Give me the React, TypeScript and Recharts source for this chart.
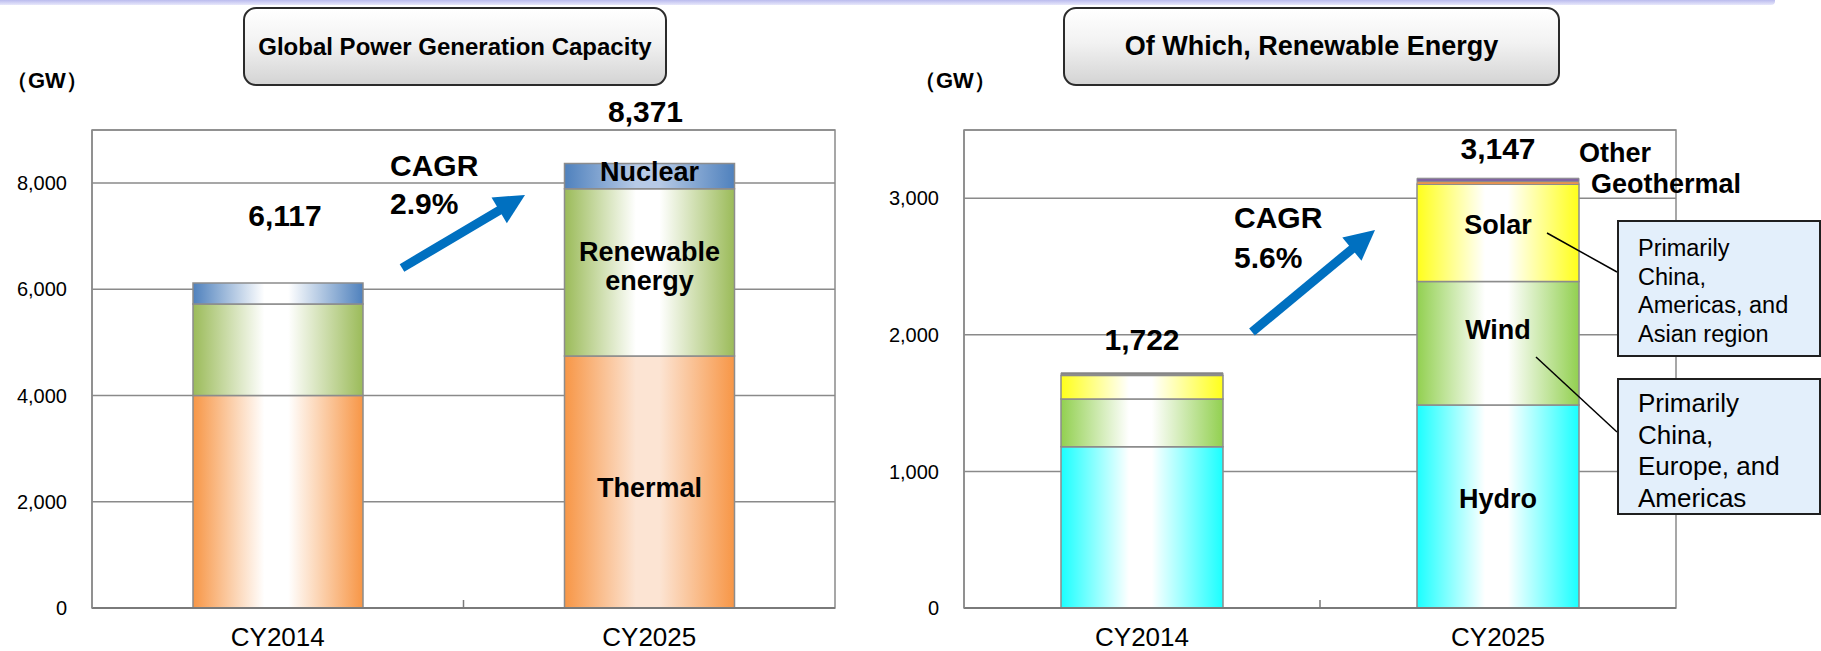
import React from "react";
import { BarChart, Bar, XAxis, YAxis, CartesianGrid, Cell, LabelList, ReferenceArea } from "recharts";

const FONT = "'Liberation Sans', Arial, Helvetica, sans-serif";

const years = ["CY2014", "CY2025"];

// global power generation capacity (GW)
const thermal = [4000, 4745];
const renewable = [1722, 3147];
const nuclear = [395, 479];

// of which renewable (GW)
const hydro = [1181, 1487];
const wind = [350, 903];
const solar = [171, 712];
const geothermal = [10, 20];
const other = [10, 25];

const leftTicks = [0, 2000, 4000, 6000, 8000];
const rightTicks = [0, 1000, 2000, 3000];

const globalData = years.map((year, i) => ({ year, thermal: thermal[i], renewable: renewable[i], nuclear: nuclear[i] }));
const renewData = years.map((year, i) => ({
  year, hydro: hydro[i], wind: wind[i], solar: solar[i], geothermal: geothermal[i], other: other[i],
}));
const globalTotals = years.map((_, i) => thermal[i] + renewable[i] + nuclear[i]);
const renewTotals = years.map((_, i) => hydro[i] + wind[i] + solar[i] + geothermal[i] + other[i]);

// layout
const H = 651;
const XAXIS_H = 43;
const L = { left: 0, width: 860, margin: { top: 130, right: 25, left: 67, bottom: 0 } };
const R = { left: 880, width: 820, margin: { top: 130, right: 24, left: 59, bottom: 0 } };
const YAXIS_W = 25;
const GRID = "#8a8a8a";
const STROKE = "#8c8c8c";

const grad = (id: string, edge: string, mid: string) => (
  <linearGradient id={id} x1="0" y1="0" x2="1" y2="0" key={id}>
    <stop offset="0" stopColor={edge} />
    <stop offset="0.42" stopColor={mid} />
    <stop offset="0.56" stopColor={mid} />
    <stop offset="1" stopColor={edge} />
  </linearGradient>
);

const box = (p: any) => {
  const vb = p.viewBox ?? p;
  const top = Math.min(vb.y, vb.y + vb.height);
  return { x: vb.x, y: top, width: vb.width, height: Math.abs(vb.height) };
};

// label inside the CY2025 segment only
const segLabel = (lines: string[], dy: number) => (p: any) => {
  if (p.index !== 1) return null;
  const b = box(p);
  const cx = b.x + b.width / 2;
  const cy = b.y + b.height / 2 + dy;
  const fs = 27;
  const lh = 29;
  return (
    <text textAnchor="middle" fontFamily={FONT} fontWeight="bold" fontSize={fs} fill="#000">
      {lines.map((l, k) => (
        <tspan key={k} x={cx} y={cy + (k - (lines.length - 1) / 2) * lh + fs * 0.35}>{l}</tspan>
      ))}
    </text>
  );
};

const totalLabel = (totals: number[], lift: number[], dx: number[]) => (p: any) => {
  const i = p.index;
  if (i == null) return null;
  const b = box(p);
  const fs = 30;
  return (
    <text x={b.x + b.width / 2 + dx[i]} y={b.y - lift[i] + fs * 0.35} textAnchor="middle"
      fontFamily={FONT} fontWeight="bold" fontSize={fs} fill="#000">
      {totals[i].toLocaleString("en-US")}
    </text>
  );
};

function Arrow({ x1, y1, x2, y2 }: { x1: number; y1: number; x2: number; y2: number }) {
  const a = Math.atan2(y2 - y1, x2 - x1);
  const len = 30, half = 15;
  const bx = x2 - len * Math.cos(a), by = y2 - len * Math.sin(a);
  const px = -Math.sin(a), py = Math.cos(a);
  return (
    <g>
      <line x1={x1} y1={y1} x2={bx + 4 * Math.cos(a)} y2={by + 4 * Math.sin(a)} stroke="#0070C0" strokeWidth={9} />
      <polygon points={`${x2},${y2} ${bx + half * px},${by + half * py} ${bx - half * px},${by - half * py}`} fill="#0070C0" />
    </g>
  );
}

const titleBox = (left: number, width: number, text: string, fs: number) => (
  <div style={{
    position: "absolute", left, top: 7, width, height: 79, boxSizing: "border-box",
    border: "2px solid #2b2b2b", borderRadius: 13,
    background: "linear-gradient(to bottom, #ffffff 0%, #f2f2f2 45%, #d4d4d4 100%)",
    display: "flex", alignItems: "center", justifyContent: "center",
    fontFamily: FONT, fontWeight: "bold", fontSize: fs, color: "#000",
  }}>{text}</div>
);

const callout = (top: number, lines: string[], fs: number, lh: number, padTop: number) => (
  <div style={{
    position: "absolute", left: 1617, top, width: 204, height: 137, boxSizing: "border-box",
    border: "2px solid #1f1f1f", background: "#E3EFFB", paddingLeft: 19, paddingTop: padTop,
    fontFamily: FONT, fontSize: fs, lineHeight: `${lh}px`, color: "#000",
  }}>
    {lines.map((l, k) => <div key={k} style={{ whiteSpace: "nowrap" }}>{l}</div>)}
  </div>
);

const tickStyle = { fontSize: 20, fill: "#000", fontFamily: FONT };
const xTickStyle = { fontSize: 26, fill: "#000", fontFamily: FONT };

// thin top strips: grey on the 2014 bar, coloured on the 2025 bar
const geoFill = ["#8c8c8c", "#F79646"];
const otherFill = ["#7f7f7f", "#8064A2"];

export default function App() {
  const lPlotW = L.width - L.margin.left - L.margin.right - YAXIS_W;
  const rPlotW = R.width - R.margin.left - R.margin.right - YAXIS_W;
  const lMid = L.left + L.margin.left + YAXIS_W + lPlotW / 2;
  const rMid = R.left + R.margin.left + YAXIS_W + rPlotW / 2;
  const plotBottom = H - XAXIS_H;

  return (
    <div style={{ position: "absolute", left: 0, top: 0, width: 1821, height: H, overflow: "hidden", background: "#fff" }}>
      <svg width={0} height={0} style={{ position: "absolute" }}>
        <defs>
          {grad("thermal0", "#F79646", "#FFFFFF")}
          {grad("thermal1", "#F79646", "#FCE4D3")}
          {grad("renew0", "#9BBB59", "#FFFFFF")}
          {grad("renew1", "#9BBB59", "#FFFFFF")}
          {grad("nuclear0", "#4F81BD", "#FFFFFF")}
          {grad("nuclear1", "#4F81BD", "#B7CAE6")}
          {grad("hydro", "#1AFFFF", "#FFFFFF")}
          {grad("wind", "#92D050", "#FFFFFF")}
          {grad("solar", "#FFFF1A", "#FFFFFF")}
        </defs>
      </svg>

      <div style={{
        position: "absolute", left: -10, top: -3, width: 1785, height: 8, borderRadius: 4,
        background: "linear-gradient(to bottom, #9fa0e6, #e8e8fb)",
      }} />

      {titleBox(243, 424, "Global Power Generation Capacity", 24)}
      {titleBox(1063, 497, "Of Which, Renewable Energy", 27)}

      <div style={{ position: "absolute", left: L.left }}>
        <BarChart width={L.width} height={H} data={globalData} margin={L.margin}>
          <CartesianGrid horizontal vertical={false} stroke={GRID} strokeWidth={1.5} />
          <ReferenceArea y1={0} y2={9000} fill="none" stroke={GRID} strokeWidth={1.5} />
          <XAxis dataKey="year" height={XAXIS_H} tickSize={0} tickMargin={20} tickLine={false}
            axisLine={{ stroke: "#7a7a7a", strokeWidth: 2 }} tick={xTickStyle} />
          <YAxis type="number" domain={[0, 9000]} ticks={leftTicks} interval={0} width={YAXIS_W}
            tickSize={0} tickMargin={25} tickLine={false} axisLine={{ stroke: GRID, strokeWidth: 1.5 }}
            tick={tickStyle} tickFormatter={(v: number) => v.toLocaleString("en-US")} />
          <Bar dataKey="thermal" stackId="a" barSize={170} stroke={STROKE} strokeWidth={1.5} isAnimationActive={false}>
            {years.map((_, i) => <Cell key={i} fill={`url(#thermal${i})`} />)}
            <LabelList dataKey="thermal" content={segLabel(["Thermal"], 6)} />
          </Bar>
          <Bar dataKey="renewable" stackId="a" barSize={170} stroke={STROKE} strokeWidth={1.5} isAnimationActive={false}>
            {years.map((_, i) => <Cell key={i} fill={`url(#renew${i})`} />)}
            <LabelList dataKey="renewable" content={segLabel(["Renewable", "energy"], -6)} />
          </Bar>
          <Bar dataKey="nuclear" stackId="a" barSize={170} stroke={STROKE} strokeWidth={1.5} isAnimationActive={false}>
            {years.map((_, i) => <Cell key={i} fill={`url(#nuclear${i})`} />)}
            <LabelList dataKey="nuclear" content={segLabel(["Nuclear"], -5)} />
            <LabelList dataKey="nuclear" content={totalLabel(globalTotals, [68, 52], [7, -4])} />
          </Bar>
        </BarChart>
      </div>

      <div style={{ position: "absolute", left: R.left, top: 0 }}>
        <BarChart width={R.width} height={H} data={renewData} margin={R.margin}>
          <CartesianGrid horizontal vertical={false} stroke={GRID} strokeWidth={1.5} />
          <ReferenceArea y1={0} y2={3500} fill="none" stroke={GRID} strokeWidth={1.5} />
          <XAxis dataKey="year" height={XAXIS_H} tickSize={0} tickMargin={20} tickLine={false}
            axisLine={{ stroke: "#7a7a7a", strokeWidth: 2 }} tick={xTickStyle} />
          <YAxis type="number" domain={[0, 3500]} ticks={rightTicks} interval={0} width={YAXIS_W}
            tickSize={0} tickMargin={25} tickLine={false} axisLine={{ stroke: GRID, strokeWidth: 1.5 }}
            tick={tickStyle} tickFormatter={(v: number) => v.toLocaleString("en-US")} />
          <Bar dataKey="hydro" stackId="r" barSize={162} fill="url(#hydro)" stroke={STROKE} strokeWidth={1.5} isAnimationActive={false}>
            <LabelList dataKey="hydro" content={segLabel(["Hydro"], -8)} />
          </Bar>
          <Bar dataKey="wind" stackId="r" barSize={162} fill="url(#wind)" stroke={STROKE} strokeWidth={1.5} isAnimationActive={false}>
            <LabelList dataKey="wind" content={segLabel(["Wind"], -14)} />
          </Bar>
          <Bar dataKey="solar" stackId="r" barSize={162} fill="url(#solar)" stroke={STROKE} strokeWidth={1.5} isAnimationActive={false}>
            <LabelList dataKey="solar" content={segLabel(["Solar"], -8)} />
          </Bar>
          <Bar dataKey="geothermal" stackId="r" barSize={162} stroke={STROKE} strokeWidth={1} isAnimationActive={false}>
            {years.map((_, i) => <Cell key={i} fill={geoFill[i]} />)}
          </Bar>
          <Bar dataKey="other" stackId="r" barSize={162} stroke={STROKE} strokeWidth={1} isAnimationActive={false}>
            {years.map((_, i) => <Cell key={i} fill={otherFill[i]} />)}
            <LabelList dataKey="other" content={totalLabel(renewTotals, [33, 30], [0, 0])} />
          </Bar>
        </BarChart>
      </div>

      <svg width={1821} height={H} style={{ position: "absolute", left: 0, top: 0, pointerEvents: "none" }}>
        <g fontFamily={FONT} fill="#000">
          <text x={6} y={80 + 7.7} fontSize={22} fontWeight="bold">（GW）</text>
          <text x={914} y={80 + 7.7} fontSize={22} fontWeight="bold">（GW）</text>

          <text x={390} y={165 + 10.5} fontSize={30} fontWeight="bold">CAGR</text>
          <text x={390} y={203 + 10.5} fontSize={30} fontWeight="bold">2.9%</text>
          <text x={1234} y={217 + 10.5} fontSize={30} fontWeight="bold">CAGR</text>
          <text x={1234} y={257 + 10.5} fontSize={30} fontWeight="bold">5.6%</text>

          <text x={1579} y={152 + 9.5} fontSize={27} fontWeight="bold">Other</text>
          <text x={1591} y={183 + 9.5} fontSize={27} fontWeight="bold">Geothermal</text>
        </g>

        <line x1={lMid} y1={plotBottom - 8} x2={lMid} y2={plotBottom} stroke="#7a7a7a" strokeWidth={1.5} />
        <line x1={rMid} y1={plotBottom - 8} x2={rMid} y2={plotBottom} stroke="#7a7a7a" strokeWidth={1.5} />

        <Arrow x1={402} y1={268} x2={525} y2={195} />
        <Arrow x1={1252} y1={332} x2={1375} y2={230} />

        <line x1={1547} y1={233} x2={1617} y2={272} stroke="#000" strokeWidth={1.5} />
        <line x1={1536} y1={357} x2={1617} y2={432} stroke="#000" strokeWidth={1.5} />
      </svg>

      {callout(220, ["Primarily", "China,", "Americas, and", "Asian region"], 23.5, 28.7, 12)}
      {callout(378, ["Primarily", "China,", "Europe, and", "Americas"], 26, 31.7, 8)}
    </div>
  );
}
